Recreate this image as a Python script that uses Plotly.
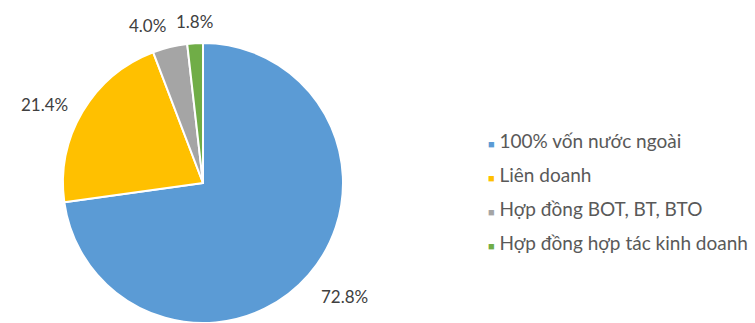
import math
import plotly.graph_objects as go

# Cơ cấu vốn FDI theo hình thức đầu tư (%)
categories = [
    "100% vốn nước ngoài",
    "Liên doanh",
    "Hợp đồng BOT, BT, BTO",
    "Hợp đồng hợp tác kinh doanh",
]
shares = [72.8, 21.4, 4.0, 1.8]
colors = ["#5B9BD5", "#FFC000", "#A5A5A5", "#70AD47"]

W, H = 755, 323
LABEL_FONT = "Lato, sans-serif"
LEGEND_FONT = "Lato, sans-serif"

# pie geometry in pixels
cx, cy, R = 203, 183, 140
dom_x = [(cx - R) / W, (cx + R) / W]
dom_y = [(H - cy - R) / H, (H - cy + R) / H]

fig = go.Figure(
    go.Pie(
        labels=categories,
        values=shares,
        marker=dict(colors=colors, line=dict(color="white", width=2)),
        sort=False,
        direction="clockwise",
        rotation=0,
        textinfo="none",
        hoverinfo="label+percent",
        showlegend=False,
        domain=dict(x=dom_x, y=dom_y),
    )
)

annotations = []

# value labels just outside each slice, along its mid angle
total = sum(shares)
cum = 0.0
for v in shares:
    mid = (cum + v / 2) / total * 2 * math.pi
    cum += v
    s, c = math.sin(mid), math.cos(mid)
    xa = "left" if s > 0.2 else ("right" if s < -0.2 else "center")
    ya = "bottom" if c > 0.6 else ("top" if c < -0.6 else "middle")
    r = R + (9 if ya == "bottom" else 14)
    px, py = cx + r * s, cy - r * c
    annotations.append(
        dict(
            x=px / W, y=1 - py / H, xref="paper", yref="paper",
            text=f"{v:.1f}%", showarrow=False,
            xanchor=xa, yanchor=ya,
            font=dict(family=LABEL_FONT, size=17, color="#404040"),
        )
    )

# legend: small coloured squares followed by the category names
leg_x, leg_y0, leg_dy = 486, 140, 34.3
for i, (name, col) in enumerate(zip(categories, colors)):
    annotations.append(
        dict(
            x=leg_x / W, y=1 - (leg_y0 + i * leg_dy) / H,
            xref="paper", yref="paper",
            text=f"<span style='font-size:11px;color:{col}'>■</span> {name}",
            showarrow=False, xanchor="left", yanchor="middle",
            font=dict(family=LEGEND_FONT, size=19, color="#595959"),
        )
    )

fig.update_layout(
    width=W, height=H,
    margin=dict(l=0, r=0, t=0, b=0),
    paper_bgcolor="white",
    plot_bgcolor="white",
    annotations=annotations,
)

fig.write_html("out.html")
